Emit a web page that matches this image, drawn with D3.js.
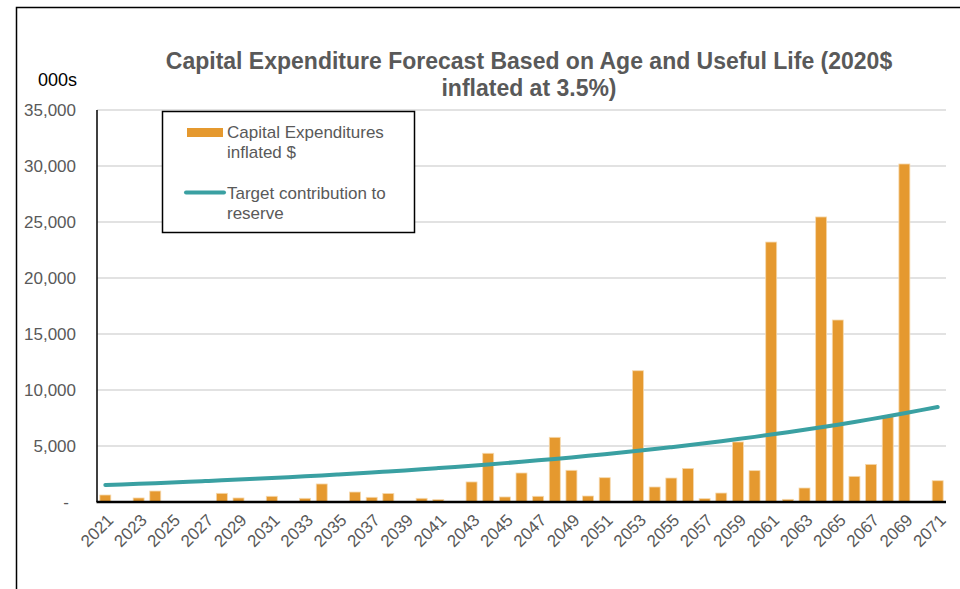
<!DOCTYPE html>
<html>
<head>
<meta charset="utf-8">
<script src="https://cdn.jsdelivr.net/npm/d3@7"></script>
<style>
html,body{margin:0;padding:0;background:#fff;}
svg{display:block;font-family:"Liberation Sans",Arial,sans-serif;}
</style>
</head>
<body>
<svg id="chart" width="960" height="589"></svg>
<script>
const years = ["2021","2022","2023","2024","2025","2026","2027","2028","2029","2030","2031","2032","2033","2034","2035","2036","2037","2038","2039","2040","2041","2042","2043","2044","2045","2046","2047","2048","2049","2050","2051","2052","2053","2054","2055","2056","2057","2058","2059","2060","2061","2062","2063","2064","2065","2066","2067","2068","2069","2070","2071"];
const capex = [625,0,360,980,0,0,0,775,360,0,510,0,330,1610,0,890,420,760,0,330,210,0,1790,4350,450,2590,510,5775,2830,535,2170,0,11720,1340,2140,3000,300,800,5360,2800,23210,240,1250,25450,16250,2290,3360,7620,30180,0,1900];
const target = [1520,1573,1628,1685,1744,1805,1869,1934,2002,2072,2144,2219,2297,2377,2461,2547,2636,2728,2823,2922,3025,3130,3240,3353,3471,3592,3718,3848,3983,4122,4266,4416,4570,4730,4896,5067,5244,5428,5618,5815,6018,6229,6447,6672,6906,7148,7398,7657,7925,8202,8489];
const yTicks = [0,5000,10000,15000,20000,25000,30000,35000];
const xTickLabels = ["2021","2023","2025","2027","2029","2031","2033","2035","2037","2039","2041","2043","2045","2047","2049","2051","2053","2055","2057","2059","2061","2063","2065","2067","2069","2071"];
const titleLines = ["Capital Expenditure Forecast Based on Age and Useful Life (2020$","inflated at 3.5%)"];
const legendLabels = [["Capital Expenditures","inflated $"],["Target contribution to","reserve"]];
</script>
<script>
(function(){
const svg = d3.select("#chart");
const barColor = "#E5992F", lineColor = "#3AA0A2", gray = "#595959";
const pLeft = 97, pRight = 946, pTop = 110, pBottom = 502;

// outer frame (top and left edges visible)
svg.append("rect").attr("x",16.5).attr("y",7.5).attr("width",1200).attr("height",1200)
  .attr("fill","none").attr("stroke","#000").attr("stroke-width",1.5);

const x = d3.scaleBand().domain(years).range([pLeft,pRight]).paddingInner(0.34).paddingOuter(0.17);
const y = d3.scaleLinear().domain([0,35000]).range([pBottom,pTop]);

// gridlines
svg.append("g").selectAll("line").data(yTicks.slice(1)).join("line")
  .attr("x1",pLeft).attr("x2",pRight).attr("y1",d=>y(d)).attr("y2",d=>y(d))
  .attr("stroke","#d9d9d9").attr("stroke-width",1.3);

// y tick labels
const fmt = d3.format(",");
svg.append("g").selectAll("text").data(yTicks).join("text")
  .attr("x",d=>d===0?66:76).attr("y",d=>y(d)).attr("dy","0.35em")
  .attr("text-anchor",d=>d===0?"middle":"end")
  .attr("fill",gray).style("font-size","17px")
  .text(d=>d===0?"-":fmt(d));

// bars
const data = years.map((yr,i)=>({yr, v:capex[i], t:target[i]}));
svg.append("g").selectAll("rect").data(data.filter(d=>d.v>0)).join("rect")
  .attr("x",d=>x(d.yr)).attr("width",x.bandwidth())
  .attr("y",d=>y(d.v)).attr("height",d=>y(0)-y(d.v))
  .attr("fill",barColor).attr("stroke","#F6D9AE").attr("stroke-width",0.8);

// axes lines
svg.append("line").attr("x1",pLeft).attr("x2",pLeft).attr("y1",pTop).attr("y2",pBottom)
  .attr("stroke","#000").attr("stroke-width",1.5);
svg.append("line").attr("x1",pLeft-0.5).attr("x2",pRight).attr("y1",pBottom).attr("y2",pBottom)
  .attr("stroke","#000").attr("stroke-width",2.5);

// line
const line = d3.line().x(d=>x(d.yr)+x.bandwidth()/2).y(d=>y(d.t)).curve(d3.curveMonotoneX);
svg.append("path").datum(data).attr("d",line).attr("fill","none")
  .attr("stroke",lineColor).attr("stroke-width",4).attr("stroke-linecap","round");

// x tick labels
svg.append("g").selectAll("text").data(xTickLabels).join("text")
  .attr("transform",d=>`translate(${x(d)+x.bandwidth()/2+5},${pBottom+15}) rotate(-45)`)
  .attr("text-anchor","end").attr("dy","0.35em")
  .attr("fill",gray).style("font-size","17px")
  .text(d=>d);

// title
svg.append("text").attr("x",529).attr("y",69).attr("text-anchor","middle")
  .attr("fill",gray).style("font-size","23px").style("font-weight","bold")
  .selectAll("tspan").data(titleLines).join("tspan")
  .attr("x",529).attr("dy",(d,i)=>i===0?0:27).text(d=>d);

// units
svg.append("text").attr("x",38).attr("y",86).attr("fill","#000").style("font-size","18px").text("000s");

// legend
const lg = svg.append("g");
lg.append("rect").attr("x",162.5).attr("y",111.5).attr("width",252).attr("height",121)
  .attr("fill","#fff").attr("stroke","#000").attr("stroke-width",1.5);
lg.append("rect").attr("x",187).attr("y",128).attr("width",36).attr("height",9).attr("fill",barColor);
lg.append("line").attr("x1",186).attr("x2",224).attr("y1",192.5).attr("y2",192.5)
  .attr("stroke",lineColor).attr("stroke-width",4).attr("stroke-linecap","round");
legendLabels.forEach((lines,k)=>{
  const t = lg.append("text").attr("x",227).attr("y",k===0?138:199)
    .attr("fill",gray).style("font-size","17px");
  t.selectAll("tspan").data(lines).join("tspan").attr("x",227).attr("dy",(d,i)=>i===0?0:20).text(d=>d);
});
})();
</script>
</body>
</html>
